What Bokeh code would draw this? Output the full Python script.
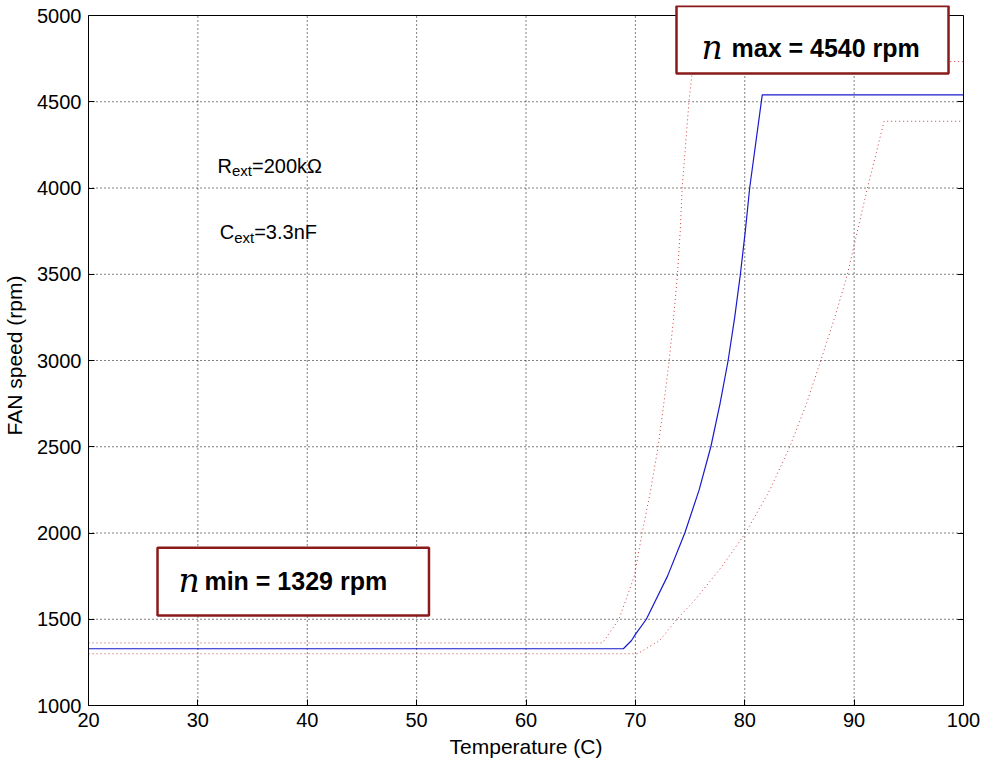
from bokeh.plotting import figure
from bokeh.models import BoxAnnotation, Label, FixedTicker, LinearAxis, CustomJSTickFormatter, Span, Range1d
from bokeh.embed import file_html
from bokeh.resources import INLINE

# ---- data ----
x_ticks = [20, 30, 40, 50, 60, 70, 80, 90, 100]
y_ticks = [1000, 1500, 2000, 2500, 3000, 3500, 4000, 4500, 5000]

# nominal curve (solid blue)
temp_nom = [20, 68.9, 69.65, 70.0, 71.0, 72.94, 74.52, 75.83, 76.9, 77.74, 78.48, 79.08, 79.6, 80.05, 80.45, 81.6, 100]
rpm_nom = [1329, 1329, 1377, 1412, 1500, 1750, 2000, 2250, 2500, 2750, 3000, 3250, 3500, 3750, 4000, 4540, 4540]

# upper tolerance curve (red dotted)
temp_hi = [20, 67.0, 68.5, 69.9, 70.62, 71.4, 72.08, 72.6, 73.09, 73.5, 73.85, 74.1, 74.28, 74.9, 75.3, 100]
rpm_hi = [1363, 1363, 1500, 1750, 2000, 2250, 2500, 2750, 3000, 3250, 3500, 3750, 4000, 4500, 4733, 4733]

# lower tolerance curve (red dotted)
temp_lo = [20, 70.2, 72.23, 73.8, 75.4, 77.87, 80.07, 82.3, 84.12, 85.65, 86.95, 88.23, 89.39, 90.3, 91.22, 92.74, 100]
rpm_lo = [1300, 1300, 1377, 1500, 1609, 1802, 2000, 2250, 2500, 2750, 3000, 3250, 3500, 3750, 4000, 4387, 4387]

FONT = "Liberation Sans"
SERIF = "DejaVu Serif"
BOXC = "#8b1a1a"
LIFT = 9  # px: text baseline correction

x0, x1 = x_ticks[0], x_ticks[-1]
y0, y1 = y_ticks[0], y_ticks[-1]
PX_PER_RPM = 690 / (y1 - y0)
y_top = y1 + 10 / PX_PER_RPM      # frame reaches 10 px above the 5000 line so the top box can overhang

p = figure(frame_width=875, frame_height=700,
           x_range=Range1d(x0, x1), y_range=Range1d(y0, y_top),
           output_backend="svg", toolbar_location=None,
           min_border_left=87, min_border_right=22,
           min_border_top=5, min_border_bottom=58,
           background_fill_color="white", border_fill_color="white")

p.outline_line_color = None
p.grid.visible = False

blank = CustomJSTickFormatter(code="return ''")
p.add_layout(LinearAxis(ticker=FixedTicker(ticks=y_ticks), formatter=blank,
                        major_label_standoff=0, bounds=(y0, y1)), "right")

p.xaxis[0].ticker = FixedTicker(ticks=x_ticks)
p.left[0].ticker = FixedTicker(ticks=y_ticks)
p.left[0].bounds = (y0, y1)
for ax in list(p.xaxis) + list(p.yaxis):
    ax.major_tick_in = 6
    ax.major_tick_out = 0
    ax.minor_tick_line_color = None
    ax.axis_line_color = "black"
    ax.major_tick_line_color = "black"
    ax.major_label_text_font = FONT
    ax.major_label_text_font_size = "20px"
    ax.major_label_text_color = "black"
    ax.axis_label_text_font = FONT
    ax.axis_label_text_font_size = "21px"
    ax.axis_label_text_font_style = "normal"
    ax.axis_label_text_color = "black"

p.below[0].major_label_standoff = 7
p.left[0].major_label_standoff = 7
p.below[0].axis_label = "Temperature (C)"
p.left[0].axis_label = "FAN speed (rpm)"
p.below[0].axis_label_standoff = 5
p.left[0].axis_label_standoff = 8

# dotted grid, limited to the 1000..5000 box
p.segment(x0=x_ticks, y0=[y0] * len(x_ticks), x1=x_ticks, y1=[y1] * len(x_ticks),
          line_color="black", line_alpha=1.0, line_dash="1 3", line_width=1, level="underlay")
p.segment(x0=[x0] * len(y_ticks), y0=y_ticks, x1=[x1] * len(y_ticks), y1=y_ticks,
          line_color="black", line_alpha=1.0, line_dash="1 3", line_width=1, level="underlay")

# top edge of the axes box
p.add_layout(Span(location=y1, dimension="width", line_color="black", line_width=1))

# curves
p.line(temp_hi, rpm_hi, line_color="#d04040", line_width=1, line_dash="1 3")
p.line(temp_lo, rpm_lo, line_color="#d04040", line_width=1, line_dash="1 3")
p.line(temp_nom, rpm_nom, line_color="#1a1acc", line_width=1.2)

# text annotations
def lab(x, y, text, size, dx=0, dy=0, style="normal", font=FONT):
    p.add_layout(Label(x=x, y=y, x_offset=dx, y_offset=dy + LIFT, text=text,
                       text_font=font, text_font_size=size, text_font_style=style,
                       text_color="black", text_baseline="alphabetic", text_align="left"))

lab(31.8, 4076, "R", "20px")
lab(31.8, 4076, "ext", "15px", dx=14.4, dy=-5)
lab(31.8, 4076, "=200k\u03a9", "20px", dx=34.4)

lab(32.0, 3691, "C", "20px")
lab(32.0, 3691, "ext", "15px", dx=14.4, dy=-5)
lab(32.0, 3691, "=3.3nF", "20px", dx=34.4)

# framed value boxes
p.add_layout(BoxAnnotation(left=73.76, right=98.63, bottom=4664, top=5055,
                           fill_color="white", fill_alpha=1.0,
                           line_color=BOXC, line_alpha=1.0, line_width=2.5))
lab(76.05, 4762, "n", "33px", style="italic", font=SERIF)
lab(78.79, 4762, "max = 4540 rpm", "25px", style="bold")

p.add_layout(BoxAnnotation(left=26.31, right=51.13, bottom=1522, top=1914,
                           fill_color="white", fill_alpha=1.0,
                           line_color=BOXC, line_alpha=1.0, line_width=2.5))
lab(28.23, 1670, "n", "33px", style="italic", font=SERIF)
lab(30.60, 1670, "min = 1329 rpm", "25px", style="bold")

open("out.html", "w").write(file_html(p, INLINE))
